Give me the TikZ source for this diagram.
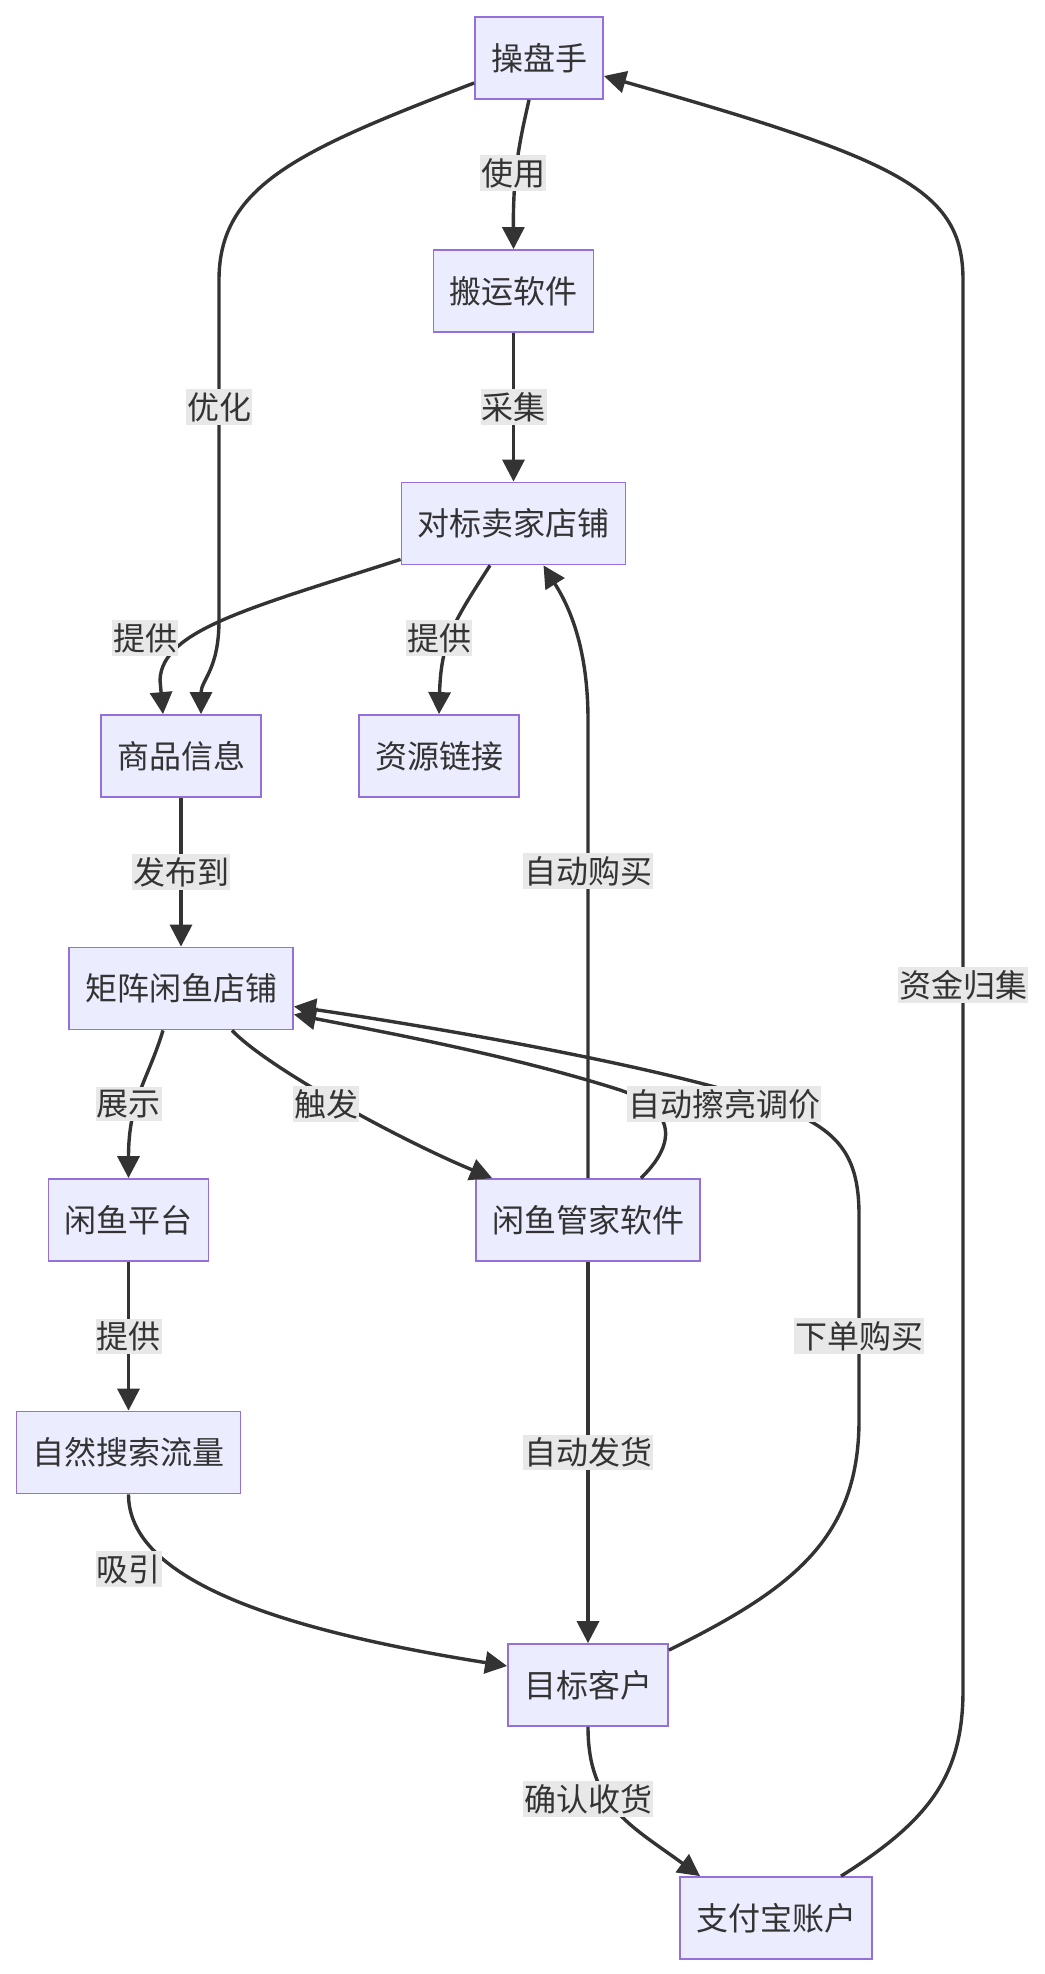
\documentclass[tikz,border=0pt]{standalone}
\usepackage{fontspec}
\setmainfont{Noto Sans CJK SC}
\usepackage{xcolor}
\definecolor{nodeFill}{HTML}{ECECFF}
\definecolor{nodeBorder}{HTML}{9370DB}
\definecolor{lineGray}{HTML}{333333}
\definecolor{labelGray}{HTML}{E8E8E8}
\definecolor{darkText}{HTML}{333333}
\usepackage{tikz}
\usetikzlibrary{
    arrows.meta,
    positioning
}
\tikzset{
    % Base style for all nodes
    flow base/.style={
        font=\fontsize{16pt}{19pt}\selectfont,
        align=center,
        text=darkText,
    },
    % Process nodes - plain rectangle, lavender fill
    process/.style={
        flow base,
        rectangle,
        draw=nodeBorder,
        line width=0.9pt,
        fill=nodeFill,
        minimum height=41pt,
        inner xsep=8pt,
    },
    % Connector arrow
    arrow/.style={
        -{Triangle[length=11pt, width=11pt]},
        line width=1.7pt,
        draw=lineGray,
    },
    % Label on a grey patch
    flow label/.style={
        flow base,
        fill=labelGray,
        inner xsep=0.5pt,
        inner ysep=1.5pt,
    },
}

\begin{document}
\begin{tikzpicture}[x=0.5pt, y=-0.5pt, node distance=116.25pt]
    \useasboundingbox (0,0) rectangle (1044,1974);
    \node (czs) [process] at (539,58) {操盘手};
    \node (banyun) [process] at (513.5,291) {搬运软件};
    \node (duibiao) [process, below of=banyun] {对标卖家店铺};
    \node (shangpin) [process] at (181,756) {商品信息};
    \node (ziyuan) [process] at (439,756) {资源链接};
    \node (juzhen) [process, below of=shangpin] {矩阵闲鱼店铺};
    \node (pingtai) [process] at (128.5,1220) {闲鱼平台};
    \node (guanjia) [process] at (588,1220) {闲鱼管家软件};
    \node (liuliang) [process, below of=pingtai] {自然搜索流量};
    \node (kehu) [process] at (588,1685) {目标客户};
    \node (zhifubao) [process] at (776,1918) {支付宝账户};

    \draw [arrow] ([xshift=-5pt]czs.south) .. controls (520,140) and (513,170) .. (banyun.north)
        node[flow label] at (513,173) {使用};
    \draw [arrow] ([yshift=-12.5pt]czs.west) .. controls (300,150) and (219,185) .. (219,280)
        -- (219,620) .. controls (219,670) and (201,680) .. ([xshift=10pt]shangpin.north)
        node[flow label] at (219,407) {优化};
    \draw [arrow] (banyun) -- node[flow label] {采集} (duibiao);
    \draw [arrow] ([yshift=3pt]duibiao.south west) .. controls (250,608) and (162,630) .. (160,680)
        -- ([xshift=-9pt]shangpin.north) node[flow label] at (145,638) {提供};
    \draw [arrow] ([xshift=-11.75pt]duibiao.south) .. controls (455,620) and (441,640) .. (ziyuan.north)
        node[flow label] at (439,638) {提供};
    \draw [arrow] (guanjia.north) -- node[flow label, pos=0.67] {自动购买} (588,720)
        .. controls (588,640) and (565,600) .. ([xshift=15pt]duibiao.south);
    \draw [arrow] (shangpin) -- node[flow label] {发布到} (juzhen);
    \draw [arrow] ([xshift=-9pt]juzhen.south) .. controls (148,1080) and (128.5,1100) .. (pingtai.north)
        node[flow label] at (128.5,1104) {展示};
    \draw [arrow] ([xshift=25.5pt]juzhen.south) .. controls (268,1068) and (400,1140) .. ([xshift=8.5pt]guanjia.north west)
        node[flow label] at (326,1104) {触发};
    \draw [arrow] ([yshift=-3.5pt]kehu.north east) .. controls (790,1590) and (859,1540) .. (859,1420)
        -- (859,1215) .. controls (859,1150) and (835,1125) .. (760,1100)
        .. controls (640,1062) and (420,1025) .. ([yshift=-9pt]juzhen.east)
        node[flow label] at (859,1336) {下单购买};
    \draw [arrow] ([xshift=26.5pt]guanjia.north) .. controls (685,1135) and (665,1105) .. (620,1090)
        .. controls (520,1058) and (400,1035) .. ([yshift=-13pt]juzhen.east)
        node[flow label] at (724,1104) {自动擦亮调价};
    \draw [arrow] (pingtai) -- node[flow label] {提供} (liuliang);
    \draw [arrow] (liuliang.south) .. controls (128.5,1580) and (280,1630) .. ([yshift=9.5pt]kehu.west)
        node[flow label] at (128.5,1569) {吸引};
    \draw [arrow] (guanjia) -- node[flow label] {自动发货} (kehu);
    \draw [arrow] (kehu.south) .. controls (588,1805) and (630,1825) .. ([xshift=-38pt]zhifubao.north)
        node[flow label] at (588,1799) {确认收货};
    \draw [arrow] ([xshift=32.5pt]zhifubao.north) .. controls (930,1820) and (963,1775) .. (963,1690)
        -- node[flow label] {资金归集} (963,280)
        .. controls (963,190) and (900,160) .. ([yshift=-9pt]czs.east);
\end{tikzpicture}
\end{document}
